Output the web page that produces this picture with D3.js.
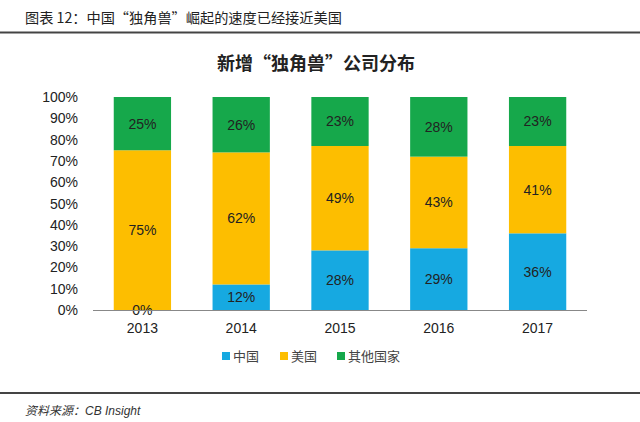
<!DOCTYPE html>
<html>
<head>
<meta charset="utf-8">
<script src="https://cdn.jsdelivr.net/npm/d3@7"></script>
<style>
  body { margin: 0; background: #fff; }
  text { font-family: "Liberation Sans", Arial, "Noto Sans CJK SC", sans-serif; }
  .cjk { font-family: "Noto Sans CJK SC", sans-serif; }
</style>
</head>
<body>
<svg width="640" height="422"></svg>
<script>
const years = ['2013', '2014', '2015', '2016', '2017']
const china = [0, 12, 28, 29, 36]
const usa = [75, 62, 49, 43, 41]
const others = [25, 26, 23, 28, 23]
const seriesNames = ['中国', '美国', '其他国家']
const colors = ['#16a9e1', '#fdbe00', '#16a84b']
const yTicks = [0, 10, 20, 30, 40, 50, 60, 70, 80, 90, 100]

const svg = d3.select('svg')
const width = 640

// page header
svg.append('text').attr('class', 'cjk')
  .attr('x', 25).attr('y', 23)
  .attr('font-size', 14.2).attr('fill', '#222')
  .text('图表 12：中国“独角兽”崛起的速度已经接近美国')
svg.append('line')
  .attr('x1', 0).attr('x2', width).attr('y1', 32.5).attr('y2', 32.5)
  .attr('stroke', '#444').attr('stroke-width', 2)

// chart title
svg.append('text').attr('class', 'cjk')
  .attr('x', 316).attr('y', 70)
  .attr('text-anchor', 'middle')
  .attr('font-size', 18).attr('font-weight', 'bold').attr('fill', '#222')
  .text('新增“独角兽”公司分布')

const x = d3.scaleBand()
  .domain(years)
  .range([93, 587])
  .paddingInner(0.42)
  .paddingOuter(0.21)

const y = d3.scaleLinear()
  .domain([0, 100])
  .range([310, 97])

// stacked data
const rows = years.map((yr, i) => ({ year: yr, c: china[i], u: usa[i], o: others[i] }))
const stack = d3.stack().keys(['c', 'u', 'o'])(rows)

const groups = svg.selectAll('g.series').data(stack)
  .enter().append('g')
    .attr('class', 'series')
    .attr('fill', (d, i) => colors[i])

groups.selectAll('rect').data(d => d)
  .enter().append('rect')
    .attr('x', d => x(d.data.year))
    .attr('y', d => y(d[1]))
    .attr('width', x.bandwidth())
    .attr('height', d => y(d[0]) - y(d[1]))

// value labels
stack.forEach(s => {
  svg.selectAll(null).data(s)
    .enter().append('text')
      .attr('x', d => x(d.data.year) + x.bandwidth() / 2)
      .attr('y', d => y((d[0] + d[1]) / 2) + 5)
      .attr('text-anchor', 'middle')
      .attr('font-size', 14)
      .attr('fill', '#222')
      .text(d => (d[1] - d[0]) + '%')
})

// axis
svg.append('line')
  .attr('x1', 93).attr('x2', 587).attr('y1', 310.5).attr('y2', 310.5)
  .attr('stroke', '#888').attr('stroke-width', 1)

svg.selectAll('text.ytick').data(yTicks)
  .enter().append('text')
    .attr('class', 'ytick')
    .attr('x', 78)
    .attr('y', d => y(d) + 5)
    .attr('text-anchor', 'end')
    .attr('font-size', 14)
    .attr('fill', '#222')
    .text(d => d + '%')

svg.selectAll('text.xtick').data(years)
  .enter().append('text')
    .attr('class', 'xtick')
    .attr('x', d => x(d) + x.bandwidth() / 2)
    .attr('y', 333)
    .attr('text-anchor', 'middle')
    .attr('font-size', 14)
    .attr('fill', '#222')
    .text(d => d)

// legend
const legendX = [222, 280, 337]
seriesNames.forEach((name, i) => {
  svg.append('rect')
    .attr('x', legendX[i]).attr('y', 352)
    .attr('width', 8).attr('height', 8)
    .attr('fill', colors[i])
  svg.append('text').attr('class', 'cjk')
    .attr('x', legendX[i] + 11).attr('y', 361)
    .attr('font-size', 13).attr('fill', '#444')
    .text(name)
})

// footer
svg.append('line')
  .attr('x1', 0).attr('x2', width).attr('y1', 393).attr('y2', 393)
  .attr('stroke', '#444').attr('stroke-width', 2)
svg.append('text')
  .attr('x', 25).attr('y', 415)
  .attr('font-size', 12).attr('font-style', 'italic').attr('fill', '#333')
  .text('资料来源：CB Insight')
</script>
</body>
</html>
